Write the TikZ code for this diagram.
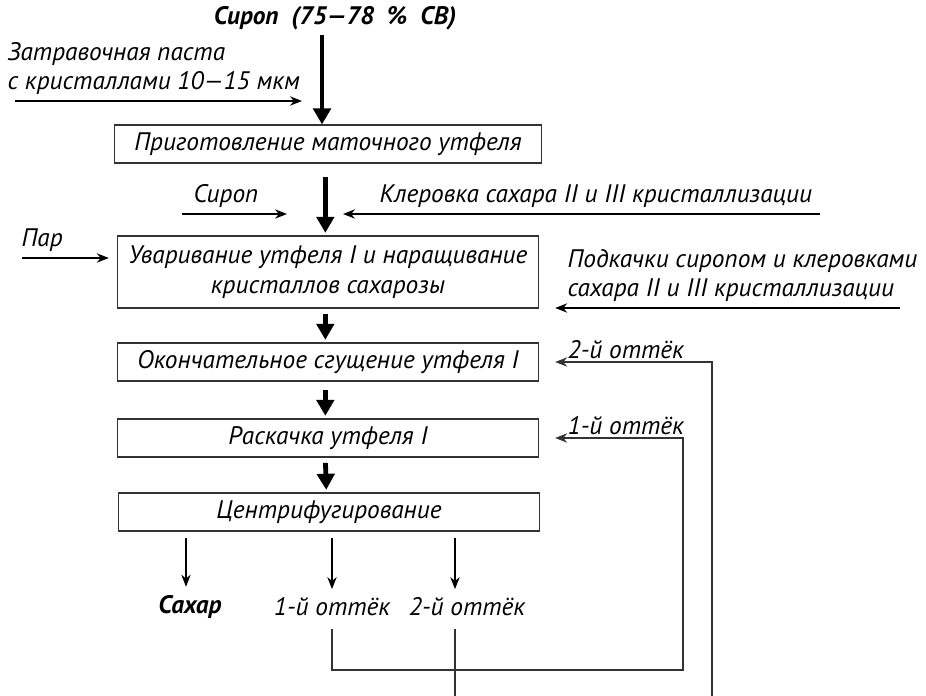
\documentclass[tikz,border=0pt]{standalone}
\usepackage{fontspec}
\setmainfont{PT Sans}
\usetikzlibrary{arrows.meta}
\newcommand{\flowfont}{\fontsize{19}{22}\selectfont\itshape}
\tikzset{
  box/.style={draw=black!80, line width=0.8pt, minimum width=316pt, minimum height=28.5pt, inner sep=2pt, align=center},
  fat/.style={line width=3.6pt, -{Triangle[length=12pt,width=13pt]}},
  flow/.style={line width=1.1pt, -{Stealth[length=9pt,width=7pt]}},
  back/.style={line width=0.8pt, draw=black!80, -{Stealth[length=9pt,width=7pt]}},
  lbl/.style={inner sep=1pt, align=left}
}
\begin{document}
\begin{tikzpicture}[x=0.75pt,y=-0.75pt,font=\flowfont]
  \useasboundingbox (0,0) rectangle (926,696);
  % main line
  \node[box,minimum width=320pt] (prep) at (328,144) {Приготовление маточного утфеля};
  \node[box,minimum height=54pt] (boil) at (328,272) {Уваривание утфеля I и наращивание\\кристаллов сахарозы};
  \node[box] (dense) at (328,362) {Окончательное сгущение утфеля I};
  \node[box] (swing) at (328,438) {Раскачка утфеля I};
  \node[box] (spin) at (329,512) {Центрифугирование};

  % inputs
  \node[font=\flowfont\bfseries] (syrup) at (335,18) {Сироп\ \ (75—78 \ \%\ \ СВ)};
  \node[lbl,anchor=south west] (seed) at (6,96) {Затравочная паста\\с кристаллами 10—15 мкм};
  \coordinate (seedin) at (15,101);
  \coordinate (seedout) at (302,101);
  \node[lbl,anchor=south] (syrup2) at (226,209) {Сироп};
  \coordinate (s2in) at (182,214);
  \coordinate (s2out) at (287,214);
  \node[lbl,anchor=south west] (clear) at (378,209) {Клеровка сахара II и III кристаллизации};
  \coordinate (clin) at (820,214);
  \coordinate (clout) at (343,214);
  \node[lbl,anchor=south west] (steam) at (20,253) {Пар};
  \coordinate (stin) at (22,258);
  \node[lbl,anchor=south west] (feed) at (566,303) {Подкачки сиропом и клеровками\\сахара II и III кристаллизации};
  \coordinate (fdin) at (900,308);
  \node[lbl,anchor=south west] (ret2) at (566,360) {2-й оттёк};
  \node[lbl,anchor=south west] (ret1) at (566,436) {1-й оттёк};

  \draw[fat] ([xshift=-4.5pt]prep.north |- syrup.south) -- ([xshift=-4.5pt]prep.north);
  \draw[flow] (seedin) -- (seedout);
  \draw[fat,shorten <=10pt,shorten >=2pt] ([xshift=-2pt]prep.south) -- ([xshift=-2pt]boil.north);
  \draw[flow] (s2in) -- (s2out);
  \draw[flow] (clin) -- (clout);
  \draw[flow,shorten >=6pt] (stin) -- (stin -| boil.west);
  \draw[flow,shorten >=12pt] (fdin) -- (fdin -| boil.east);
  \draw[fat,shorten <=4pt,shorten >=2pt] ([xshift=-2pt]boil.south) -- ([xshift=-2pt]dense.north);
  \draw[fat,shorten <=6pt,shorten >=2pt] ([xshift=-2pt]dense.south) -- ([xshift=-2pt]swing.north);
  \draw[fat,shorten <=4pt,shorten >=2pt] ([xshift=-2pt]swing.south) -- ([xshift=-2pt]spin.north);

  % outputs
  \node[font=\flowfont\bfseries] (sugar) at (190,607) {Сахар};
  \node (out1) at (332,607) {1-й оттёк};
  \node (out2) at (467,607) {2-й оттёк};
  \draw[flow,shorten <=5pt,shorten >=3pt] ([xshift=-3pt]sugar.north |- spin.south) -- ([xshift=-3pt]sugar.north);
  \draw[flow,shorten <=5pt,shorten >=3pt] (out1.north |- spin.south) -- (out1.north);
  \draw[flow,shorten <=5pt,shorten >=3pt] ([xshift=-9pt]out2.north |- spin.south) -- ([xshift=-9pt]out2.north);

  % returns
  \coordinate (r1) at (683,670);
  \coordinate (r2) at (712,708);
  \draw[back,shorten <=6pt,shorten >=12pt] (out1.south) -- (out1.south |- r1) -- (r1) |- (swing.east);
  \draw[back,shorten <=6pt,shorten >=12pt] ([xshift=-9pt]out2.south) -- ([xshift=-9pt]out2.south |- r2) -- (r2) |- (dense.east);
\end{tikzpicture}
\end{document}
